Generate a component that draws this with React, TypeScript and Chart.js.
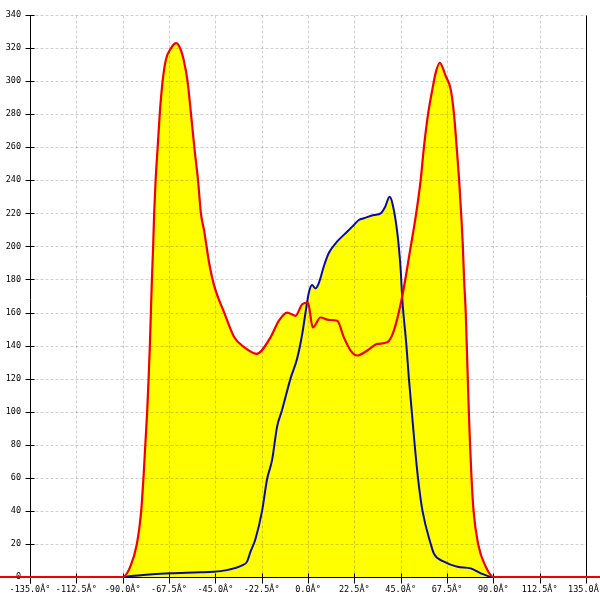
import React, { useEffect, useRef } from 'react';
import { Chart, registerables } from 'chart.js';

Chart.register(...registerables);

const xTicks = [-135, -112.5, -90, -67.5, -45, -22.5, 0, 22.5, 45, 67.5, 90, 112.5, 135];
const xTickLabels = ['-135.0Â°', '-112.5Â°', '-90.0Â°', '-67.5Â°', '-45.0Â°', '-22.5Â°', '0.0Â°', '22.5Â°', '45.0Â°', '67.5Â°', '90.0Â°', '112.5Â°', '135.0Â°'];
const yTicks = [0, 20, 40, 60, 80, 100, 120, 140, 160, 180, 200, 220, 240, 260, 280, 300, 320, 340];

const redAngles = [-150, -90, -86.4, -83.1, -81, -79.9, -79, -78.1, -77.4, -76.8, -76.3, -75.8, -75.2, -74.7, -74, -73, -72, -70.6, -69, -66.5, -64, -61.8, -60.4, -58.5, -56.8, -55.2, -53.4, -52, -50.5, -48, -45.5, -40.7, -35.8, -31, -25, -18.2, -14.2, -10.1, -6.1, -2.8, 0, 2.3, 6.1, 10.1, 14.2, 17.4, 20.7, 23.9, 28.8, 33.7, 38.5, 41.7, 45.8, 49.9, 52.3, 54.7, 56.3, 58.3, 60.4, 62, 64, 66.9, 69.3, 70.9, 72.2, 73.4, 74.6, 75.2, 75.8, 76.6, 77.1, 77.6, 78.1, 78.7, 79.4, 80.4, 82.6, 86.4, 90, 150];
const redValues = [0, 0, 6, 20, 40, 60, 80, 100, 120, 140, 160, 180, 200, 220, 240, 260, 280, 300, 313, 320, 323, 319, 313, 300, 280, 260, 240, 220, 210, 190, 176, 160, 145, 139, 135, 145, 155, 160, 158, 165, 166, 151, 157, 155.5, 155, 145, 137, 134, 137, 141, 142, 149, 170, 200, 218, 240, 260, 280, 295, 305, 311, 303, 295, 280, 260, 240, 215, 200, 180, 160, 140, 120, 100, 80, 60, 40, 20, 6, 0, 0];

const blueAngles = [-90, -80, -67, -52.3, -45.8, -40, -36, -32, -29.6, -28, -25.5, -22.3, -19.9, -17.4, -15, -12.6, -8.5, -5.3, -2.8, -1.2, 0.4, 2, 3.6, 5.3, 7.7, 10.1, 14.2, 19.1, 22.3, 24.7, 27.1, 32, 35.3, 37.5, 39.6, 41, 43.4, 45, 45.8, 46.3, 47.8, 49, 50.4, 51.8, 53.4, 55.6, 59.6, 61.2, 66, 72.6, 79, 83.9, 88.8];
const blueValues = [0, 1.2, 2.2, 2.8, 3.2, 4, 5.2, 7, 9.3, 15, 23, 40, 59, 71, 91, 101, 120, 132, 147, 160, 172, 176.6, 174.6, 178, 188, 196, 203, 209, 213, 216, 217, 219, 220, 224, 230, 226, 208, 186, 168, 160, 140, 120, 100, 80, 60, 40, 20, 14, 9.3, 6.2, 5.2, 2.2, 0];

const FONT = { family: "'DejaVu Sans Mono', monospace", size: 8.5 };

const overlay = {
  id: 'overlay',
  beforeDatasetsDraw(chart: any) {
    const { ctx, chartArea: a, scales } = chart;
    const x = scales.x;
    const y = scales.y;
    const seg = (x1: number, y1: number, x2: number, y2: number) => {
      ctx.beginPath();
      ctx.moveTo(x1, y1);
      ctx.lineTo(x2, y2);
      ctx.stroke();
    };
    const L = Math.round(a.left) + 0.5;
    const R = Math.round(a.right) + 0.5;
    const B = Math.round(a.bottom) + 0.5;
    const T = Math.round(a.top) + 0.5;
    ctx.save();
    ctx.lineWidth = 1;
    ctx.strokeStyle = 'rgba(0,0,0,0.19)';
    ctx.setLineDash([3, 2]);
    xTicks.forEach((v, i) => {
      if (i === 0 || i === xTicks.length - 1) return;
      const px = Math.round(x.getPixelForValue(v)) + 0.5;
      seg(px, T, px, B);
    });
    yTicks.forEach((v) => {
      if (v === 0) return;
      const py = Math.round(y.getPixelForValue(v)) + 0.5;
      seg(L, py, R, py);
    });
    ctx.setLineDash([]);
    ctx.strokeStyle = '#000';
    seg(L, T, L, B + 6);
    seg(R, T, R, B);
    seg(L, B, R, B);
    yTicks.forEach((v) => {
      const py = Math.round(y.getPixelForValue(v)) + 0.5;
      seg(L - 5, py, L + 4, py);
    });
    xTicks.forEach((v) => {
      const px = Math.round(x.getPixelForValue(v)) + 0.5;
      seg(px, B - 4, px, B + 6);
    });
    ctx.restore();
  },
};

export default function App() {
  const ref = useRef<HTMLCanvasElement | null>(null);

  useEffect(() => {
    document.body.style.margin = '0';
    const canvas = ref.current;
    if (!canvas) return;
    const chart = new Chart(canvas, {
      type: 'line',
      data: {
        datasets: [
          {
            label: 'blue',
            data: blueAngles.map((a, i) => ({ x: a, y: blueValues[i] })),
            borderColor: '#0a0aa8',
            backgroundColor: '#ffff00',
            borderWidth: 2,
            fill: 'origin',
            pointRadius: 0,
            cubicInterpolationMode: 'monotone',
            order: 2,
          },
          {
            label: 'red',
            data: redAngles.map((a, i) => ({ x: a, y: redValues[i] })),
            borderColor: '#ee0000',
            backgroundColor: '#ffff00',
            borderWidth: 2.2,
            fill: 'origin',
            pointRadius: 0,
            cubicInterpolationMode: 'monotone',
            clip: false as any,
            order: 1,
          },
        ],
      },
      options: {
        animation: false,
        responsive: false,
        events: [],
        layout: { padding: { top: 15, right: 14, left: 0, bottom: 0 } },
        plugins: {
          legend: { display: false },
          tooltip: { enabled: false },
          filler: { drawTime: 'beforeDatasetsDraw' },
        },
        scales: {
          x: {
            type: 'linear',
            min: -135,
            max: 135,
            grid: { display: false, drawTicks: false },
            border: { display: false },
            afterBuildTicks: (s: any) => {
              s.ticks = xTicks.map((v) => ({ value: v }));
            },
            afterFit: (s: any) => {
              s.height = 23;
              s.paddingLeft = 0;
              s.paddingRight = 0;
            },
            ticks: {
              autoSkip: false,
              maxRotation: 0,
              minRotation: 0,
              padding: 8,
              color: '#000',
              font: FONT,
              callback: (_v: any, i: number) => xTickLabels[i],
            },
          },
          y: {
            type: 'linear',
            min: 0,
            max: 340,
            grid: { display: false, drawTicks: false },
            border: { display: false },
            afterBuildTicks: (s: any) => {
              s.ticks = yTicks.map((v) => ({ value: v }));
            },
            afterFit: (s: any) => {
              s.width = 30;
            },
            ticks: {
              autoSkip: false,
              padding: 9,
              color: '#000',
              font: FONT,
              callback: (v: any) => String(v),
            },
          },
        },
      },
      plugins: [overlay],
    } as any);
    return () => chart.destroy();
  }, []);

  return (
    <div style={{ width: 600, height: 600 }}>
      <canvas ref={ref} width={600} height={600} style={{ display: 'block', width: 600, height: 600 }} />
    </div>
  );
}
